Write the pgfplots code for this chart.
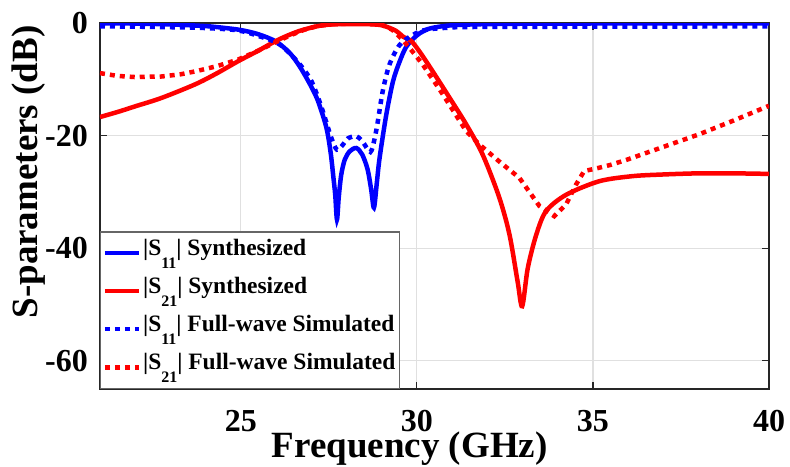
\documentclass[border=0pt]{standalone}
\usepackage{pgfplots}
\pgfplotsset{compat=1.18}
\usepackage{fontspec}
\setmainfont{Liberation Serif}

\definecolor{mblue}{rgb}{0,0,1}
\definecolor{mred}{rgb}{1,0,0}
\definecolor{axgray}{rgb}{0.15,0.15,0.15}

% low-set subscript in the legend entries
\newcommand{\sub}[1]{\raisebox{-13pt}{\fontsize{16}{18}\selectfont #1}}

% synthesized response
\pgfplotstableread{
f s11
21 -0.05
22 -0.1
23 -0.25
24 -0.55
24.5 -0.85
25 -1.25
25.5 -2.0
26 -3.3
26.4 -5.4
26.7 -8.0
27.0 -11.3
27.2 -14.0
27.43 -18.6
27.55 -23.0
27.62 -26.9
27.68 -30.5
27.73 -34.9
27.78 -31.0
27.85 -27.0
27.95 -24.3
28.09 -22.8
28.28 -22.2
28.45 -23.4
28.6 -26.0
28.7 -29.5
28.78 -32.8
28.86 -28.5
28.94 -24.0
29.13 -16.3
29.32 -10.4
29.5 -7.0
29.7 -4.2
29.98 -2.3
30.2 -1.4
30.45 -0.85
31 -0.4
32 -0.2
34 -0.1
40 -0.05
}\synthA

\pgfplotstableread{
f s21
21 -16.7
21.5 -15.8
22 -14.8
22.75 -13.3
23.7 -10.9
24.3 -9.0
24.92 -6.8
25.5 -4.9
25.96 -3.3
26.3 -2.3
26.67 -1.4
27.15 -0.6
27.6 -0.25
28.5 -0.2
29.0 -0.4
29.41 -1.4
29.6 -2.4
29.84 -3.2
30.1 -5.3
30.45 -8.6
30.93 -13.3
31.4 -18.0
31.87 -23.4
32.34 -31.0
32.63 -37.6
32.86 -45.9
32.99 -50.3
33.15 -43.5
33.39 -37.6
33.67 -33.4
34.24 -30.5
35.18 -28.1
36.12 -27.2
37 -26.9
38 -26.7
39 -26.7
40 -26.8
}\synthB

% full-wave simulation
\pgfplotstableread{
f s11
21 -0.6
22 -0.65
23 -0.75
24 -0.9
24.9 -1.3
25.5 -2.3
26.1 -3.8
26.6 -6.8
26.96 -9.8
27.15 -12.5
27.33 -15.7
27.57 -20.4
27.73 -22.5
27.9 -21.6
28.04 -20.5
28.28 -20.1
28.45 -21.0
28.68 -22.9
28.8 -20.5
28.89 -17.5
29.03 -12.1
29.22 -7.4
29.51 -3.9
29.89 -2.1
30.26 -1.2
31 -0.8
32 -0.7
40 -0.6
}\simA

\pgfplotstableread{
f s21
21 -8.9
21.5 -9.4
22 -9.6
22.75 -9.5
23.3 -9.1
23.7 -8.6
24.3 -7.7
24.92 -6.5
25.5 -4.9
25.96 -3.5
26.4 -2.2
26.8 -1.2
27.2 -0.5
27.7 -0.15
28.5 -0.1
29.0 -0.3
29.3 -1.2
29.55 -2.7
29.79 -4.4
30.17 -7.4
30.74 -12.7
31.4 -19.2
31.78 -21.6
32.34 -24.6
32.91 -27.5
33.48 -32.5
33.9 -34.3
34.24 -32.2
34.52 -28.7
34.75 -26.3
35.18 -25.7
35.5 -25.2
36 -24.2
37 -22.0
38 -19.8
39 -17.3
40 -14.7
}\simB

\begin{document}
\begin{tikzpicture}
\path[use as bounding box] (0,0) rectangle (790pt,466pt);
\begin{axis}[
  at={(100pt,77pt)}, anchor=south west,
  scale only axis, width=669pt, height=366pt,
  xmin=21, xmax=40, ymin=-65, ymax=0,
  xtick={25,30,35,40}, xticklabels={25,30,35,40},
  ytick={-60,-40,-20,0}, yticklabels={-60,-40,-20,0},
  tick align=inside, major tick length=7pt,
  tick style={axgray, line width=1.2pt},
  axis line style={axgray, line width=1.5pt},
  grid=major,
  major grid style={black!12, line width=1.2pt},
  xticklabel style={anchor=base, yshift=-42.7pt, font=\fontsize{32}{38}\selectfont\bfseries},
  yticklabel style={anchor=east, inner sep=0pt, xshift=-12pt, font=\fontsize{32}{38}\selectfont\bfseries},
  every axis x label/.style={at={(axis description cs:0.463,-0.1885)}, anchor=base, font=\fontsize{37}{44}\selectfont\bfseries},
  every axis y label/.style={at={(axis description cs:-0.106,0.593)}, anchor=center, rotate=90, font=\fontsize{37}{44}\selectfont\bfseries},
  xlabel={Frequency (GHz)},
  ylabel={S-parameters (dB)},
  legend style={at={(0,0)}, anchor=south west, draw=black!60, line width=1.2pt,
    fill=white, font=\fontsize{23.5}{28}\selectfont\bfseries,
    row sep=0.5pt, inner xsep=2pt, inner ysep=2pt, cells={anchor=west}},
  % each sample reserves room for the low-set subscripts of its row
  legend image code/.code={\path[draw=none, fill=none] (0pt,-24pt) -- (0pt,13.7pt);
    \draw[#1] (0pt,-5pt) -- (34pt,-5pt);},
  legend cell align=left,
]
\addplot[mblue, line width=4.5pt, smooth, tension=0.5] table[x=f, y=s11] {\synthA};
\addlegendentry{|S\sub{11}| Synthesized}
\addplot[mred, line width=4.5pt, smooth, tension=0.5] table[x=f, y=s21] {\synthB};
\addlegendentry{|S\sub{21}| Synthesized}
\addplot[mblue, line width=4.5pt, dash pattern=on 5pt off 5pt, smooth, tension=0.5] table[x=f, y=s11] {\simA};
\addlegendentry{|S\sub{11}| Full-wave Simulated}
\addplot[mred, line width=4.5pt, dash pattern=on 5pt off 5pt] table[x=f, y=s21] {\simB};
\addlegendentry{|S\sub{21}| Full-wave Simulated}
\end{axis}
\end{tikzpicture}
\end{document}
